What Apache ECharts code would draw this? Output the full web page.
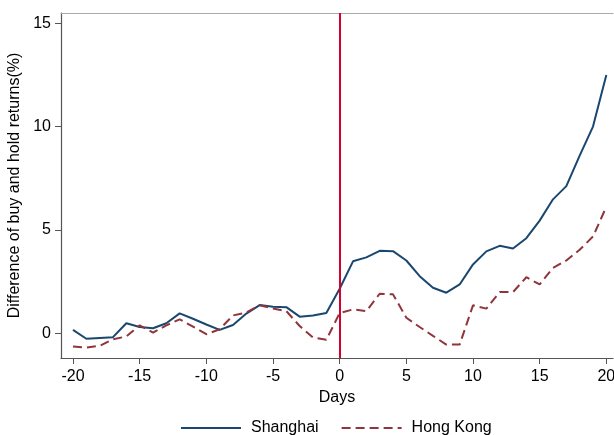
<!DOCTYPE html>
<html>
<head>
<meta charset="utf-8">
<script src="https://cdn.jsdelivr.net/npm/echarts@6/dist/echarts.min.js"></script>
<style>
html, body { margin: 0; padding: 0; background: #fff; }
#main { width: 614px; height: 435px; }
</style>
</head>
<body>
<div id="main"></div>
<script>
// 事件窗口 -20 ~ 20 天
var days = [];
for (var d = -20; d <= 20; d++) days.push(d);

var shanghai = [0.16, -0.27, -0.23, -0.19, 0.48, 0.30, 0.24, 0.48, 0.96, 0.70, 0.42, 0.16, 0.40,
	0.95, 1.36, 1.28, 1.26, 0.80, 0.86, 0.98, 2.15, 3.48, 3.67, 3.99, 3.97, 3.52, 2.76, 2.20,
	1.96, 2.36, 3.33, 3.96, 4.23, 4.10, 4.60, 5.45, 6.48, 7.12, 8.60, 10.0, 12.5];
var hongkong = [-0.64, -0.70, -0.61, -0.29, -0.16, 0.38, 0.03, 0.38, 0.67, 0.32, -0.05, 0.19, 0.86,
	1.00, 1.35, 1.20, 1.07, 0.35, -0.21, -0.32, 0.98, 1.15, 1.07, 1.91, 1.88, 0.75, 0.30, -0.13,
	-0.55, -0.55, 1.35, 1.19, 1.99, 1.99, 2.71, 2.36, 3.16, 3.52, 4.04, 4.68, 6.12];

var xTicks = [-20, -15, -10, -5, 0, 5, 10, 15, 20];
var yTicks = [0, 5, 10, 15];

function pairs(arr) {
	var res = [];
	for (var i = 0; i < arr.length; i++) res.push([days[i], arr[i]]);
	return res;
}

var myChart = echarts.init(document.getElementById('main'));
var font = 'Liberation Sans, Arial, sans-serif';

option = {
	animation : false,
	textStyle : { fontFamily : font },
	grid : { left : 61, right : 1, top : 13, bottom : 77, outerBoundsMode : 'none', containLabel : false },
	legend : {
		top : 415,
		left : 175,
		itemWidth : 60,
		itemHeight : 14,
		itemGap : 22,
		itemStyle : { opacity : 0 },
		textStyle : { fontSize : 16, color : '#000', fontFamily : font, padding : [ 0, 0, 0, 5 ] },
		data : [ 'Shanghai', 'Hong Kong' ]
	},
	xAxis : [ {
		type : 'value',
		min : -20.9,
		max : 20.5,
		name : 'Days',
		nameLocation : 'middle',
		nameGap : 27,
		nameTextStyle : { fontSize : 16, color : '#000' },
		axisLine : { onZero : false, lineStyle : { color : '#555', width : 1.2 } },
		axisTick : { show : true, inside : false, length : 6, customValues : xTicks, lineStyle : { color : '#555' } },
		axisLabel : { customValues : xTicks, fontSize : 16, color : '#000', margin : 11 },
		splitLine : { show : false }
	}, {
		type : 'value',
		position : 'top',
		min : -20.9,
		max : 20.5,
		axisLine : { show : true, onZero : false, lineStyle : { color : '#aaa', width : 1.2 } },
		axisTick : { show : false },
		axisLabel : { show : false },
		splitLine : { show : false }
	} ],
	yAxis : {
		type : 'value',
		min : -1.2,
		max : 15.5,
		name : 'Difference of buy and hold returns(%)',
		nameLocation : 'middle',
		nameGap : 36,
		nameTextStyle : { fontSize : 16, color : '#000' },
		axisLine : { show : true, onZero : false, lineStyle : { color : '#555', width : 1.2 } },
		axisTick : { show : true, inside : false, length : 6, customValues : yTicks, lineStyle : { color : '#555' } },
		axisLabel : { customValues : yTicks, fontSize : 16, color : '#000', margin : 10 },
		splitLine : { show : false }
	},
	series : [ {
		name : 'Shanghai',
		type : 'line',
		data : pairs(shanghai),
		symbol : 'none',
		lineStyle : { color : '#1a476f', width : 2 },
		itemStyle : { color : '#1a476f' },
		markLine : {
			silent : true,
			symbol : [ 'none', 'none' ],
			label : { show : false },
			lineStyle : { color : '#d6002e', type : 'solid', width : 2 },
			data : [ { xAxis : 0 } ]
		},
		z : 3
	}, {
		name : 'Hong Kong',
		type : 'line',
		data : pairs(hongkong),
		symbol : 'none',
		lineStyle : { color : '#90353b', width : 2, type : [ 9, 5 ] },
		itemStyle : { color : '#90353b' },
		z : 3
	} ]
};

myChart.setOption(option);
</script>
</body>
</html>
